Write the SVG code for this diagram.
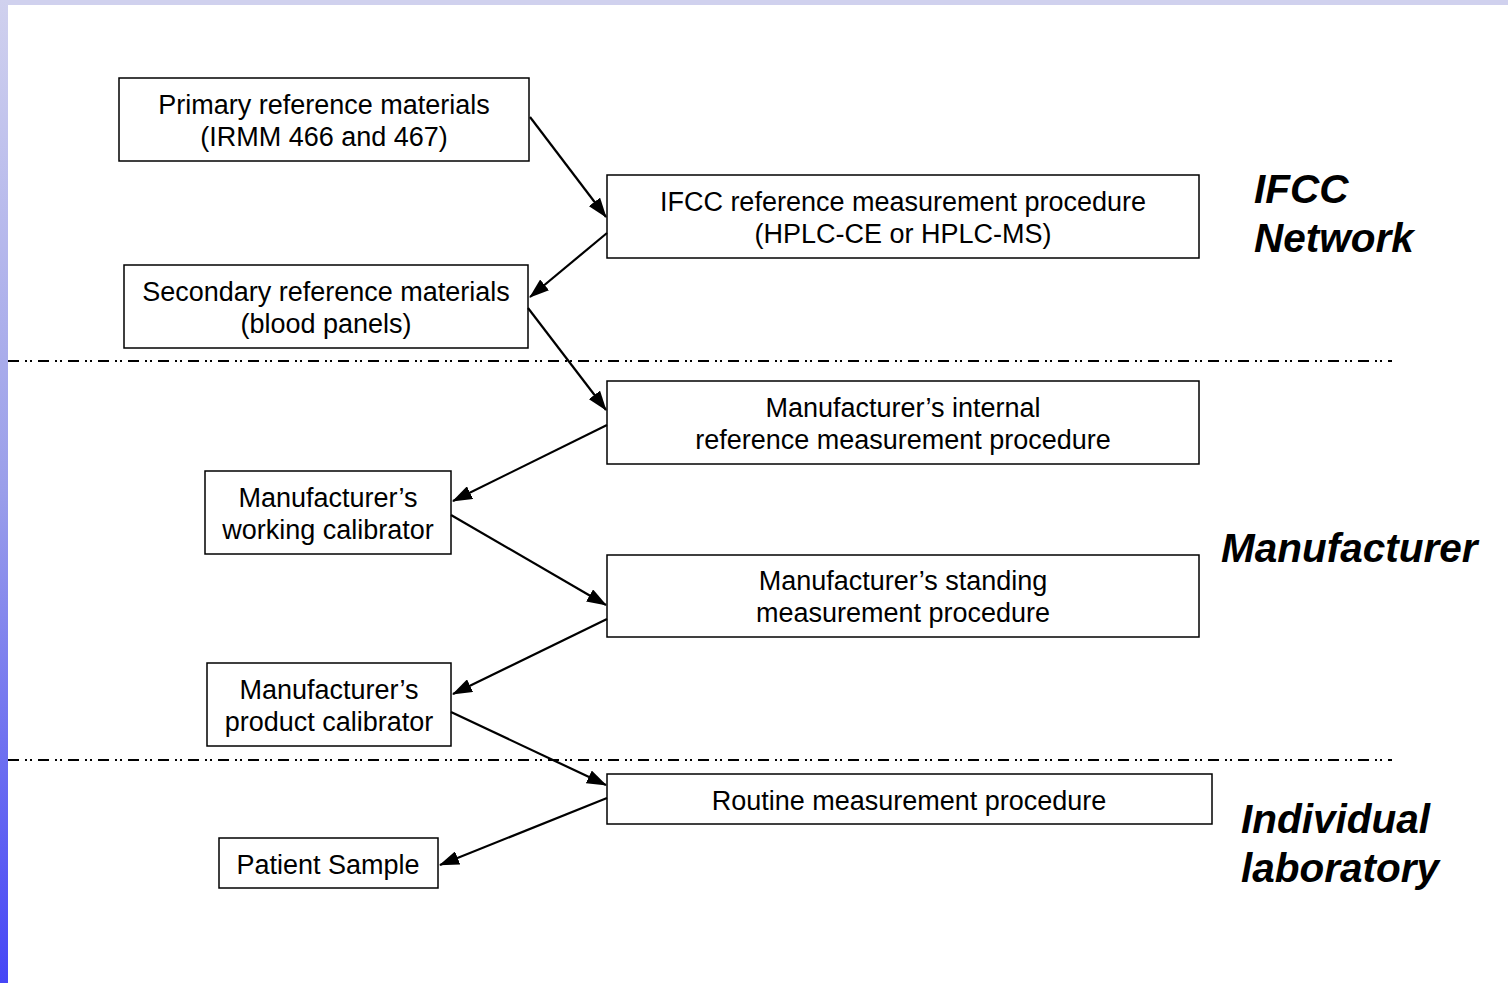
<svg xmlns="http://www.w3.org/2000/svg" width="1508" height="983" viewBox="0 0 1508 983">
<defs>
<linearGradient id="bar" x1="0" y1="0" x2="0" y2="1">
<stop offset="0" stop-color="#d0d1ee"/>
<stop offset="0.5" stop-color="#9a9eea"/>
<stop offset="1" stop-color="#4646f6"/>
</linearGradient>
<marker id="ah" viewBox="0 0 20 14" refX="19" refY="7" markerWidth="20" markerHeight="14" markerUnits="userSpaceOnUse" orient="auto">
<path d="M0,0 L20,7 L0,14 Z" fill="#000"/>
</marker>
<style>
.box{fill:#fff;stroke:#000;stroke-width:1.5}
.t{font-family:"Liberation Sans",Arial,sans-serif;font-size:27px;fill:#000;text-anchor:middle}
.lab{font-family:"Liberation Sans",Arial,sans-serif;font-size:40.5px;font-weight:bold;font-style:italic;fill:#000}
.sep{stroke:#000;stroke-width:2;stroke-dasharray:11 6 2 3 2 6;fill:none}
.c{stroke:#000;stroke-width:2.2;fill:none;marker-end:url(#ah)}
</style>
</defs>
<rect x="0" y="0" width="1508" height="983" fill="#fff"/>
<rect x="0" y="0" width="1508" height="5" fill="#d0d1ee"/>
<rect x="0" y="0" width="8" height="983" fill="url(#bar)"/>

<g id="separators">
<line class="sep" x1="8" y1="361" x2="1392" y2="361"/>
<line class="sep" x1="8" y1="760" x2="1392" y2="760"/>
</g>

<g id="n1"><rect class="box" x="119" y="78" width="410" height="83"/>
<text class="t" x="324" y="114">Primary reference materials</text>
<text class="t" x="324" y="146">(IRMM 466 and 467)</text></g>

<g id="n2"><rect class="box" x="607" y="175" width="592" height="83"/>
<text class="t" x="903" y="211">IFCC reference measurement procedure</text>
<text class="t" x="903" y="243">(HPLC-CE or HPLC-MS)</text></g>

<g id="n3"><rect class="box" x="124" y="265" width="404" height="83"/>
<text class="t" x="326" y="301">Secondary reference materials</text>
<text class="t" x="326" y="333">(blood panels)</text></g>

<g id="n4"><rect class="box" x="607" y="381" width="592" height="83"/>
<text class="t" x="903" y="417">Manufacturer’s internal</text>
<text class="t" x="903" y="449">reference measurement procedure</text></g>

<g id="n5"><rect class="box" x="205" y="471" width="246" height="83"/>
<text class="t" x="328" y="507">Manufacturer’s</text>
<text class="t" x="328" y="539">working calibrator</text></g>

<g id="n6"><rect class="box" x="607" y="555" width="592" height="82"/>
<text class="t" x="903" y="590">Manufacturer’s standing</text>
<text class="t" x="903" y="622">measurement procedure</text></g>

<g id="n7"><rect class="box" x="207" y="663" width="244" height="83"/>
<text class="t" x="329" y="699">Manufacturer’s</text>
<text class="t" x="329" y="731">product calibrator</text></g>

<g id="n8"><rect class="box" x="607" y="774" width="605" height="50"/>
<text class="t" x="909" y="810">Routine measurement procedure</text></g>

<g id="n9"><rect class="box" x="219" y="838" width="219" height="50"/>
<text class="t" x="328" y="874">Patient Sample</text></g>

<g id="labels">
<text class="lab" x="1254" y="203">IFCC</text>
<text class="lab" x="1254" y="252">Network</text>
<text class="lab" x="1221" y="562">Manufacturer</text>
<text class="lab" x="1241" y="833">Individual</text>
<text class="lab" x="1241" y="882">laboratory</text>
</g>

<g id="connectors">
<line class="c" x1="530" y1="117" x2="606" y2="217"/>
<line class="c" x1="607" y1="233" x2="530" y2="297"/>
<line class="c" x1="528" y1="308" x2="606" y2="410"/>
<line class="c" x1="607" y1="425" x2="453" y2="501"/>
<line class="c" x1="451" y1="515" x2="606" y2="605"/>
<line class="c" x1="607" y1="619" x2="453" y2="694"/>
<line class="c" x1="451" y1="712" x2="606" y2="785"/>
<line class="c" x1="607" y1="798" x2="440" y2="865"/>
</g>
</svg>
